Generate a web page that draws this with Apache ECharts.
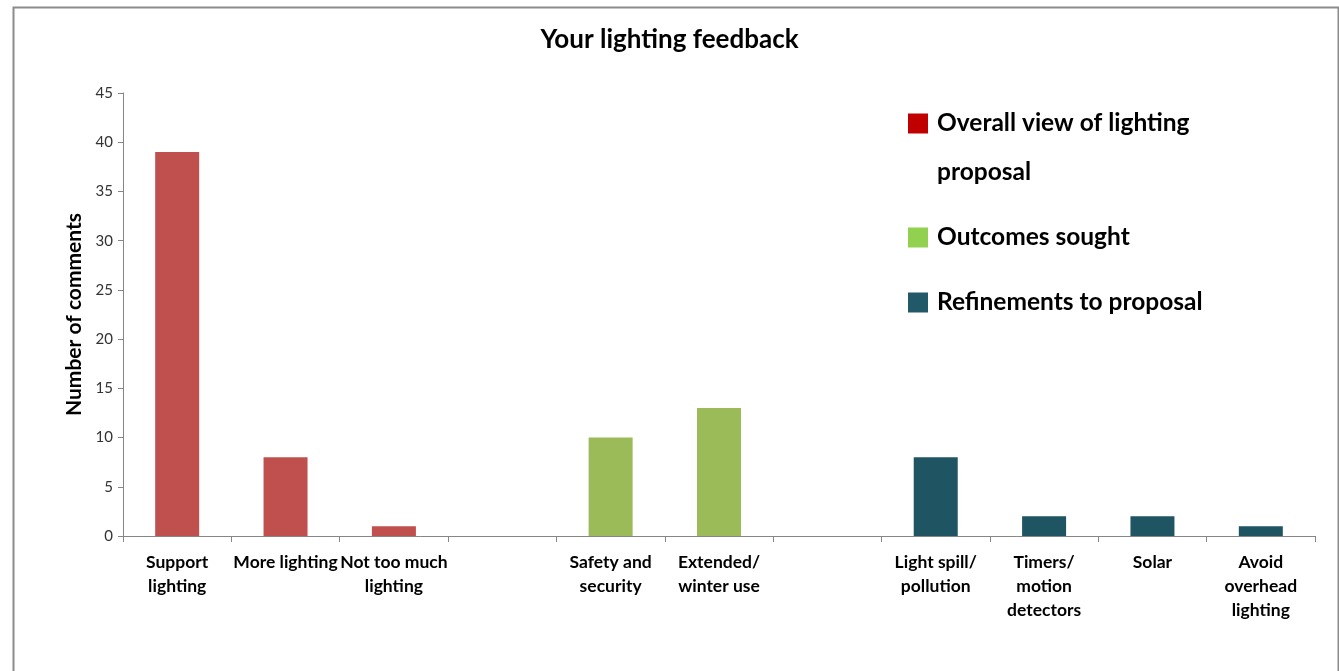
<!DOCTYPE html>
<html lang="en">
<head>
    <meta charset="UTF-8">
    <title>Your lighting feedback</title>
    <script src="https://cdn.jsdelivr.net/npm/echarts@6/dist/echarts.min.js"></script>
    <style>
        html, body { margin: 0; padding: 0; background: #fff; }
    </style>
</head>
<body>
    <div id="main" style="width: 1339px; height: 671px;"></div>

    <script>
        // Categories (blank ones are the gaps between groups)
        var categories = [
            'Support\nlighting', 'More lighting', 'Not too much\nlighting', '',
            'Safety and\nsecurity', 'Extended/\nwinter use', '',
            'Light spill/\npollution', 'Timers/\nmotion\ndetectors', 'Solar', 'Avoid\noverhead\nlighting'
        ];

        // One series per group, null where the category belongs to another group
        var overallView = [39, 8, 1, null, null, null, null, null, null, null, null];
        var outcomesSought = [null, null, null, null, 10, 13, null, null, null, null, null];
        var refinements = [null, null, null, null, null, null, null, 8, 2, 2, 1];

        var seriesNames = ['Overall view of lighting', 'Outcomes sought', 'Refinements to proposal'];
        var yTicks = { min: 0, max: 45, interval: 5 };

        var font = 'Lato, "Open Sans", sans-serif';
        var chart = echarts.init(document.getElementById('main'));

        var option = {
            backgroundColor: '#fff',
            textStyle: { fontFamily: font },
            title: {
                text: 'Your lighting feedback',
                left: 'center',
                top: 22,
                textStyle: { fontFamily: font, fontSize: 26, fontWeight: 'bold', color: '#000' }
            },
            legend: {
                orient: 'vertical',
                left: 908,
                top: 50,
                padding: 0,
                itemWidth: 20,
                itemHeight: 20,
                itemGap: 16,
                icon: 'rect',
                textStyle: {
                    fontFamily: font, fontSize: 24, fontWeight: 'bold', color: '#000', lineHeight: 49,
                    rich: { t: { fontFamily: font, fontSize: 24.5, fontWeight: 'bold', color: '#000', lineHeight: 49, padding: [0, 0, 0, 4] } }
                },
                // first entry wraps onto a second line; the empty top line keeps the swatch level with line one
                formatter: function (name) {
                    return name === seriesNames[0]
                        ? '{t| }\n{t|' + name + '}\n{t|proposal}'
                        : '{t|' + name + '}';
                },
                data: [
                    { name: seriesNames[0], itemStyle: { color: '#C00000' } },
                    { name: seriesNames[1], itemStyle: { color: '#92D050' } },
                    { name: seriesNames[2], itemStyle: { color: '#215968' } }
                ]
            },
            grid: { left: 123, right: 24, top: 93, bottom: 135 },
            xAxis: {
                type: 'category',
                data: categories,
                axisLine: { lineStyle: { color: '#868686', width: 1 } },
                axisTick: { show: true, length: 6, lineStyle: { color: '#868686' } },
                axisLabel: {
                    interval: 0,
                    margin: 14,
                    fontFamily: font,
                    fontSize: 17.5,
                    fontWeight: 'bold',
                    lineHeight: 24,
                    color: '#000'
                }
            },
            yAxis: {
                type: 'value',
                min: yTicks.min,
                max: yTicks.max,
                interval: yTicks.interval,
                name: 'Number of comments',
                nameLocation: 'middle',
                nameGap: 36,
                nameTextStyle: { fontFamily: font, fontSize: 21, fontWeight: 'bold', color: '#000' },
                axisLine: { show: true, lineStyle: { color: '#868686', width: 1 } },
                axisTick: { show: true, length: 5, lineStyle: { color: '#868686' } },
                axisLabel: { fontFamily: font, fontSize: 15, color: '#333', margin: 10 },
                splitLine: { show: false }
            },
            series: [
                {
                    name: seriesNames[0], type: 'bar', data: overallView,
                    barWidth: 44, barGap: '-100%',
                    itemStyle: { color: '#C0504D' }
                },
                {
                    name: seriesNames[1], type: 'bar', data: outcomesSought,
                    barWidth: 44, barGap: '-100%',
                    itemStyle: { color: '#9BBB59' }
                },
                {
                    name: seriesNames[2], type: 'bar', data: refinements,
                    barWidth: 44, barGap: '-100%',
                    itemStyle: { color: '#1F5563' }
                }
            ],
            graphic: [
                {
                    type: 'rect',
                    left: 11, top: 5,
                    shape: { width: 1325, height: 700 },
                    style: { fill: 'none', stroke: '#8c8c8c', lineWidth: 2 },
                    silent: true
                }
            ]
        };

        chart.setOption(option);
    </script>
</body>
</html>
